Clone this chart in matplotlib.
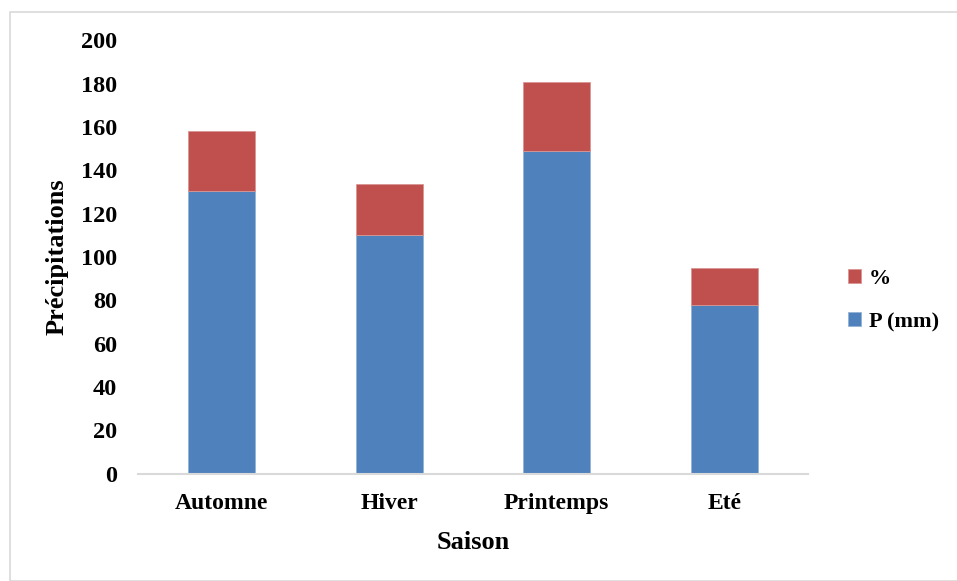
import matplotlib.pyplot as plt
from matplotlib.patches import Rectangle

# seasonal rainfall (mm) and share of the annual total (%)
saisons = ["Automne", "Hiver", "Printemps", "Eté"]
p_mm = [130.3, 110.1, 148.9, 78.0]
pct = [27.9, 23.6, 31.9, 16.7]

plt.rcParams['font.family'] = ['Liberation Serif', 'DejaVu Serif']
plt.rcParams['font.weight'] = 'bold'

fig = plt.figure(figsize=(9.57, 5.81), dpi=100)
ax = fig.add_axes([0.1442, 0.185, 0.7001, 0.7453])

x = range(len(saisons))
b1 = ax.bar(x, p_mm, width=0.4, color='#4F81BD', edgecolor='#95B3D7', linewidth=0.6, zorder=2)
b2 = ax.bar(x, pct, width=0.4, bottom=p_mm, color='#C0504D', edgecolor='#D99694', linewidth=0.6, zorder=2)

ax.set_xlim(-0.5, len(saisons) - 0.5)
ax.set_ylim(0, 200)
ax.set_yticks(range(0, 201, 20))
ax.set_xticks(list(x))
ax.set_xticklabels(saisons, fontsize=17, fontweight='bold')
ax.tick_params(axis='y', length=0, pad=15, labelsize=17.5)
ax.tick_params(axis='x', length=0, pad=14)
for lab in ax.get_yticklabels():
    lab.set_fontweight('bold')

for s in ['top', 'right', 'left']:
    ax.spines[s].set_visible(False)
ax.spines['bottom'].set_color('#d9d9d9')
ax.spines['bottom'].set_linewidth(1.5)

ax.set_ylabel('Précipitations', fontsize=19, fontweight='bold', labelpad=9)
ax.set_xlabel('Saison', fontsize=19, fontweight='bold', labelpad=12)

fig.legend([b2, b1], ['%', 'P (mm)'], loc='center left', bbox_to_anchor=(0.874, 0.483),
           frameon=False, borderpad=0, handlelength=0.6, handleheight=0.6,
           handletextpad=0.35, labelspacing=1.05, prop={'weight': 'bold', 'size': 16})

# outer chart frame
fig.patches.append(Rectangle((10 / 957, 0), 1, 1 - 12 / 581, transform=fig.transFigure,
                             fill=False, edgecolor='#d9d9d9', linewidth=1.2))

fig.savefig('out.png', dpi=100)
